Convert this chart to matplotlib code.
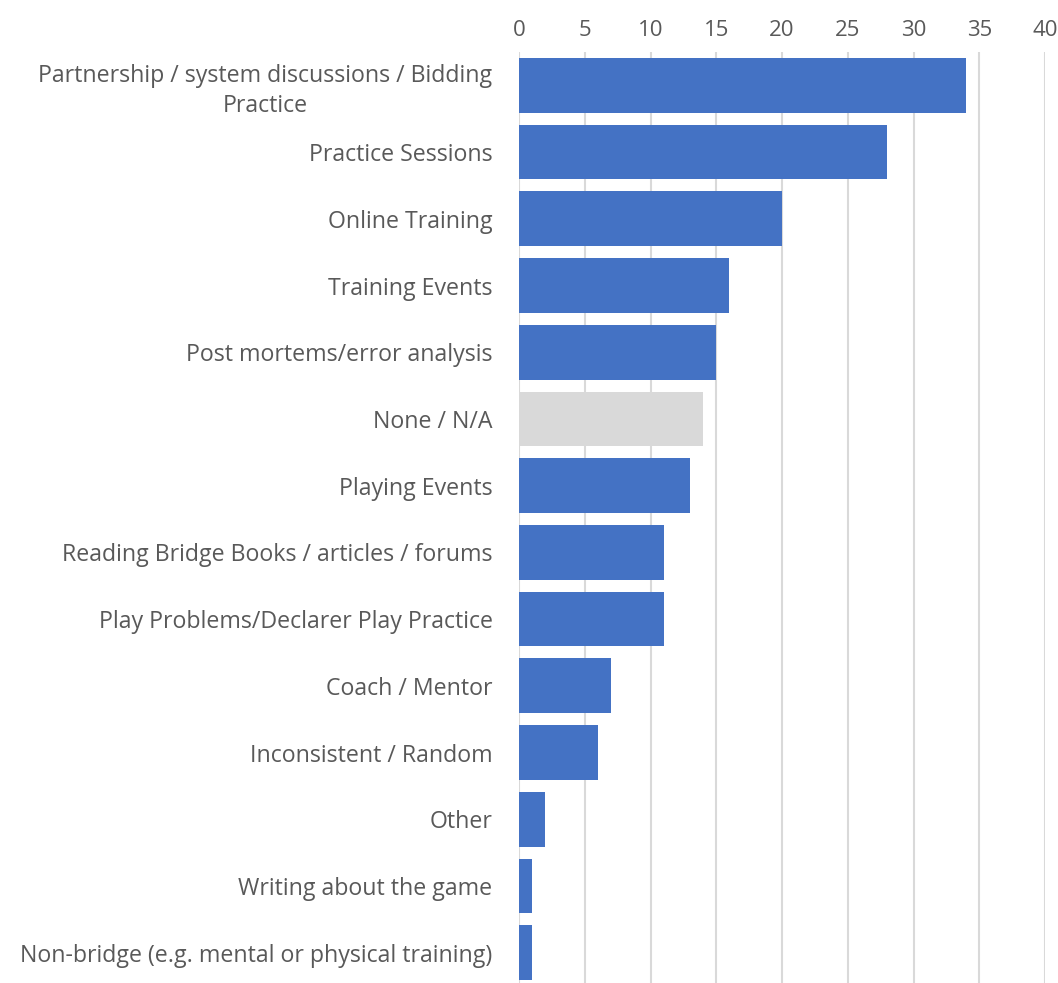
import matplotlib.pyplot as plt

# Training activities and number of responses
activities = [
    "Partnership / system discussions / Bidding\nPractice",
    "Practice Sessions",
    "Online Training",
    "Training Events",
    "Post mortems/error analysis",
    "None / N/A",
    "Playing Events",
    "Reading Bridge Books / articles / forums",
    "Play Problems/Declarer Play Practice",
    "Coach / Mentor",
    "Inconsistent / Random",
    "Other",
    "Writing about the game",
    "Non-bridge (e.g. mental or physical training)",
]
counts = [34, 28, 20, 16, 15, 14, 13, 11, 11, 7, 6, 2, 1, 1]
x_ticks = [0, 5, 10, 15, 20, 25, 30, 35, 40]

BLUE = "#4472C4"
GREY = "#D9D9D9"
TEXT = "#595959"

plt.rcParams['font.family'] = ['Open Sans', 'DejaVu Sans']

fig = plt.figure(figsize=(10.58, 9.83), dpi=100)
ax = fig.add_axes([519 / 1058, -3 / 983, (1045 - 519) / 1058, (986 - 52) / 983])

colors = [GREY if a == "None / N/A" else BLUE for a in activities]
pos = list(range(len(activities)))
ax.barh(pos, counts, height=0.82, color=colors, zorder=3)

ax.set_ylim(len(activities) - 0.5, -0.5)
ax.set_xlim(0, 40)
ax.set_xticks(x_ticks)
ax.set_yticks(pos)
ax.set_yticklabels(activities, multialignment='center', linespacing=1.3)

ax.xaxis.tick_top()
ax.tick_params(axis='x', length=0, pad=8, labelsize=16, labelcolor=TEXT)
ax.tick_params(axis='y', length=0, pad=19, labelsize=16.7, labelcolor=TEXT)

ax.grid(axis='x', color=GREY, linewidth=1.5, zorder=0)
for s in ax.spines.values():
    s.set_visible(False)

fig.savefig("out.png", dpi=100)
